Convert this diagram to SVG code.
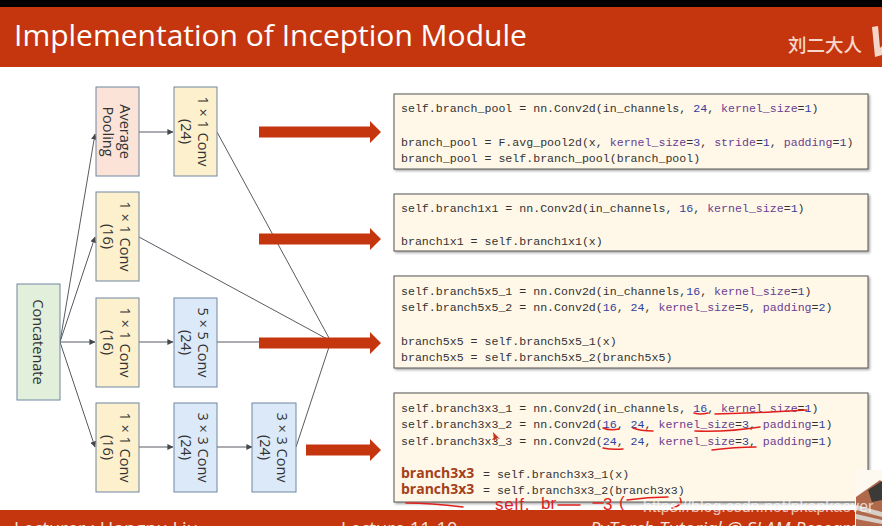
<svg xmlns="http://www.w3.org/2000/svg" width="882" height="526" viewBox="0 0 882 526">
<defs>
<marker id="ah" markerWidth="6" markerHeight="6" refX="5.6" refY="3" orient="auto" markerUnits="userSpaceOnUse"><path d="M0,0L6,3L0,6z" fill="#44484f"/></marker>
<filter id="sh" x="-2%" y="-5%" width="104%" height="112%"><feDropShadow dx="1.5" dy="1.5" stdDeviation="1" flood-color="#000" flood-opacity=".35"/></filter>
</defs>
<style>
.n{stroke:#6f86a0;stroke-width:1}
.t{font-family:"Open Sans","Noto Sans","Liberation Sans",sans-serif;font-size:14.5px;fill:#333;text-anchor:middle}
.c{fill:none;stroke:#44484f;stroke-width:.9}
.a{marker-end:url(#ah)}
.code rect{fill:#fff8e9;stroke:#555;stroke-width:1;filter:url(#sh)}
.m{font-family:"Liberation Mono",monospace;font-size:11.6px;fill:#333;white-space:pre}
.b{fill:#2f3f9f}.k{fill:#6a3d8f}
.br{font-family:"Open Sans","Liberation Sans",sans-serif;font-weight:700;font-size:14px;fill:#a5401a}
.bar{fill:#c5360f}
.ink{fill:none;stroke:#e0201c;stroke-width:1.5;stroke-linecap:round}
.hw{font-family:"Liberation Sans",sans-serif;font-size:17px;fill:#e0201c}
</style>
<rect width="882" height="526" fill="#fff"/>
<rect width="882" height="7" fill="#000"/>
<rect class="bar" y="7" width="882" height="60"/>
<text x="14" y="46" font-family="Open Sans,Noto Sans,sans-serif" font-size="30" fill="#fff">Implementation of Inception Module</text>
<text x="788" y="52" font-family="Noto Sans CJK SC,sans-serif" font-size="18.500" font-weight="500" fill="#f6d9cc">刘二大人</text>
<path d="M872,27L878,26L880,48L882,46V55L875,57z" fill="#f3d6ca"/>
<rect class="bar" y="510" width="882" height="16"/>
<g font-family="Open Sans,Noto Sans,sans-serif" font-size="18.300" fill="#f6e3da">
<text x="14" y="535">Lecturer : Hongpu Liu</text>
<text x="341" y="535">Lecture 11-10</text>
<text x="590" y="535" font-style="italic">PyTorch Tutorial @ SLAM Research</text>
</g>

<g id="connectors">
<path class="c a" d="M60,342L95,134"/>
<path class="c a" d="M60,342L95,237"/>
<path class="c a" d="M60,342L95,342"/>
<path class="c a" d="M60,342L95,447"/>
<path class="c a" d="M139,132L173,132"/>
<path class="c a" d="M139,342L173,342"/>
<path class="c a" d="M139,447L173,447"/>
<path class="c a" d="M217,447L252,447"/>
<path class="c" d="M217,132L329,338"/>
<path class="c" d="M139,237L329,340"/>
<path class="c" d="M217,342L329,342"/>
<path class="c" d="M296,447L329,347"/>
</g>

<g id="avg-pool"><rect class="n" x="96" y="87" width="43" height="89" fill="#fbe3d8"/><text class="t" transform="translate(117.500,131.500) rotate(90)"><tspan x="0" y="-2.500">Average</tspan><tspan x="0" y="14.500">Pooling</tspan></text></g>
<g id="conv1-a"><rect class="n" x="174" y="87" width="43" height="89" fill="#fdf0cd"/><text class="t" transform="translate(195.500,131.500) rotate(90)"><tspan x="0" y="-2.500">1 × 1 Conv</tspan><tspan x="0" y="14.500">(24)</tspan></text></g>
<g id="conv1-b"><rect class="n" x="96" y="192" width="43" height="89" fill="#fdf0cd"/><text class="t" transform="translate(117.500,236.500) rotate(90)"><tspan x="0" y="-2.500">1 × 1 Conv</tspan><tspan x="0" y="14.500">(16)</tspan></text></g>
<g id="concat"><rect class="n" x="17" y="284" width="43" height="116" fill="#e2efdb"/><text class="t" transform="translate(38.500,342) rotate(90)" y="5.500">Concatenate</text></g>
<g id="conv1-c"><rect class="n" x="96" y="298" width="43" height="89" fill="#fdf0cd"/><text class="t" transform="translate(117.500,342.500) rotate(90)"><tspan x="0" y="-2.500">1 × 1 Conv</tspan><tspan x="0" y="14.500">(16)</tspan></text></g>
<g id="conv5"><rect class="n" x="174" y="298" width="43" height="89" fill="#dce9f8"/><text class="t" transform="translate(195.500,342.500) rotate(90)"><tspan x="0" y="-2.500">5 × 5 Conv</tspan><tspan x="0" y="14.500">(24)</tspan></text></g>
<g id="conv1-d"><rect class="n" x="96" y="403" width="43" height="89" fill="#fdf0cd"/><text class="t" transform="translate(117.500,447.500) rotate(90)"><tspan x="0" y="-2.500">1 × 1 Conv</tspan><tspan x="0" y="14.500">(16)</tspan></text></g>
<g id="conv3-a"><rect class="n" x="174" y="403" width="43" height="89" fill="#dce9f8"/><text class="t" transform="translate(195.500,447.500) rotate(90)"><tspan x="0" y="-2.500">3 × 3 Conv</tspan><tspan x="0" y="14.500">(24)</tspan></text></g>
<g id="conv3-b"><rect class="n" x="252" y="403" width="44" height="89" fill="#dce9f8"/><text class="t" transform="translate(274,447.500) rotate(90)"><tspan x="0" y="-2.500">3 × 3 Conv</tspan><tspan x="0" y="14.500">(24)</tspan></text></g>

<g id="big-arrows" class="bar">
<path d="M259,126.500H370V121L381,132L370,143V137.500H259z"/>
<path d="M259,233.500H370V228L381,239L370,250V244.500H259z"/>
<path d="M259,337.500H370V332L381,343L370,354V348.500H259z"/>
<path d="M306,444.500H370V439L381,450L370,461V455.500H306z"/>
</g>

<g id="code-pool" class="code"><rect x="394" y="94" width="474" height="75"/>
<text class="m" x="401" y="112" xml:space="preserve">self.branch_pool = nn.Conv2d(in_channels, <tspan class="b">24</tspan>, <tspan class="k">kernel_size</tspan>=<tspan class="b">1</tspan>)</text>
<text class="m" x="401" y="146" xml:space="preserve">branch_pool = F.avg_pool2d(x, <tspan class="k">kernel_size</tspan>=<tspan class="b">3</tspan>, <tspan class="k">stride</tspan>=<tspan class="b">1</tspan>, <tspan class="k">padding</tspan>=<tspan class="b">1</tspan>)</text>
<text class="m" x="401" y="162" xml:space="preserve">branch_pool = self.branch_pool(branch_pool)</text></g>
<g id="code-1x1" class="code"><rect x="394" y="194" width="474" height="57"/>
<text class="m" x="401" y="212" xml:space="preserve">self.branch1x1 = nn.Conv2d(in_channels, <tspan class="b">16</tspan>, <tspan class="k">kernel_size</tspan>=<tspan class="b">1</tspan>)</text>
<text class="m" x="401" y="245" xml:space="preserve">branch1x1 = self.branch1x1(x)</text></g>
<g id="code-5x5" class="code"><rect x="394" y="276" width="474" height="92"/>
<text class="m" x="401" y="295" xml:space="preserve">self.branch5x5_1 = nn.Conv2d(in_channels,<tspan class="b">16</tspan>, <tspan class="k">kernel_size</tspan>=<tspan class="b">1</tspan>)</text>
<text class="m" x="401" y="311" xml:space="preserve">self.branch5x5_2 = nn.Conv2d(<tspan class="b">16</tspan>, <tspan class="b">24</tspan>, <tspan class="k">kernel_size</tspan>=<tspan class="b">5</tspan>, <tspan class="k">padding</tspan>=<tspan class="b">2</tspan>)</text>
<text class="m" x="401" y="345" xml:space="preserve">branch5x5 = self.branch5x5_1(x)</text>
<text class="m" x="401" y="361" xml:space="preserve">branch5x5 = self.branch5x5_2(branch5x5)</text></g>
<g id="code-3x3" class="code"><rect x="394" y="393" width="474" height="109"/>
<text class="m" x="401" y="412" xml:space="preserve">self.branch3x3_1 = nn.Conv2d(in_channels, <tspan class="b">16</tspan>, <tspan class="k">kernel_size</tspan>=<tspan class="b">1</tspan>)</text>
<text class="m" x="401" y="428" xml:space="preserve">self.branch3x3_2 = nn.Conv2d(<tspan class="b">16</tspan>, <tspan class="b">24</tspan>, <tspan class="k">kernel_size</tspan>=<tspan class="b">3</tspan>, <tspan class="k">padding</tspan>=<tspan class="b">1</tspan>)</text>
<text class="m" x="401" y="445" xml:space="preserve">self.branch3x3_3 = nn.Conv2d(<tspan class="b">24</tspan>, <tspan class="b">24</tspan>, <tspan class="k">kernel_size</tspan>=<tspan class="b">3</tspan>, <tspan class="k">padding</tspan>=<tspan class="b">1</tspan>)</text>
<text class="br" x="401" y="478">branch3x3</text><text class="m" x="483" y="478" xml:space="preserve">= self.branch3x3_1(x)</text>
<text class="br" x="401" y="494">branch3x3</text><text class="m" x="483" y="494" xml:space="preserve">= self.branch3x3_2(branch3x3)</text></g>

<g id="ink" class="ink">
<path d="M694,413Q700,415 708,413M715,414Q760,413 807,410"/>
<path d="M603,428Q610,431 619,429M633,428Q640,431 653,431M695,431Q730,432 760,427"/>
<path d="M603,448Q612,450 623,449M712,450Q735,447 756,447"/>
<path d="M406,503Q430,503 463,507"/>
<path d="M558,505H580M593,503H603M627,500Q648,497 668,497M680,498Q684,505 672,508"/>
</g>
<text class="hw" x="495" y="510" letter-spacing=".8">self.</text>
<text class="hw" x="541" y="509">br</text>
<text class="hw" x="603" y="510">3</text>
<text class="hw" x="619" y="508">(</text>
<path d="M493,432L494,441L497,438L500,439z" fill="#c8331d"/>

<path d="M855,470H882V526H855z" fill="#fdf8f0"/>
<path d="M856,497L880,480L882,482V526H856z" fill="#b0694a"/>
<path d="M868,490L882,481V500L872,502z" fill="#3b3a36"/>
<path d="M856,505L882,512V517L856,510zM856,514L882,520V524L856,519z" fill="#d8cfc8"/>
<text x="643" y="512" font-family="Liberation Sans,sans-serif" font-size="16" fill="#fff" fill-opacity=".7">https://blog.csdn.net/pkapkaever</text>
</svg>
